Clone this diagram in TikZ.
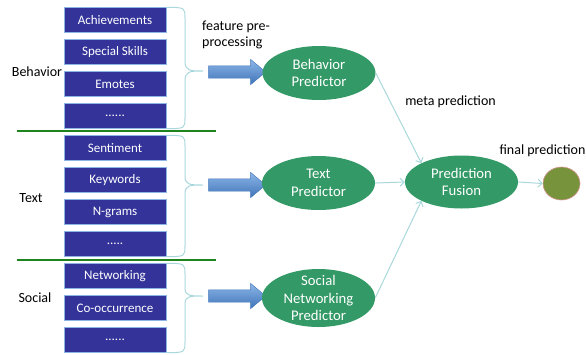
\documentclass[tikz,border=0pt]{standalone}
\usepackage{fontspec}
\setmainfont{Carlito}
\usetikzlibrary{shapes.geometric,shapes.arrows,arrows.meta}

\definecolor{featblue}{HTML}{333399}
\definecolor{featedge}{HTML}{8EB4E3}
\definecolor{predgreen}{HTML}{339966}
\definecolor{linkcyan}{HTML}{A9D8DC}
\definecolor{sepgreen}{HTML}{1E841E}
\definecolor{finalolive}{HTML}{77933C}
\definecolor{finalrim}{HTML}{D99694}
\definecolor{blktop}{HTML}{8DB6E8}
\definecolor{blkbot}{HTML}{3F74B8}

\begin{document}
\begin{tikzpicture}[x=1pt,y=-1pt,
  feat/.style={rectangle, draw=featedge, fill=featblue, text=white,
    minimum width=102pt, minimum height=25pt, inner sep=0pt,
    font=\fontsize{13}{15}\selectfont},
  pred/.style={ellipse, fill=predgreen, text=white, align=center,
    minimum width=113pt, minimum height=54pt, inner sep=0pt,
    font=\fontsize{14.7}{17.5}\selectfont},
  blk/.style={single arrow, draw=blkbot, top color=blktop, bottom color=blkbot,
    minimum height=57pt, minimum width=25pt, inner sep=0pt, inner ysep=6pt,
    single arrow head extend=6.5pt, single arrow tip angle=80},
  brc/.style={draw=linkcyan, line width=1pt},
  link/.style={draw=linkcyan, line width=1pt, -{Straight Barb[length=4pt,width=8pt]}},
  sep/.style={draw=sepgreen, line width=1.5pt},
  lbl/.style={font=\fontsize{14}{16}\selectfont, inner sep=0pt}]
% \draw [help lines, step=20] (0,0) grid (586,354) ;
\useasboundingbox (0,0) rectangle (586,354) ;

% feature boxes
\draw (115,20)  node (ach) [feat] {Achievements} ;
\draw (115,52)  node (skl) [feat] {Special Skills} ;
\draw (115,84)  node (emo) [feat] {Emotes} ;
\draw (115,116) node (dtb) [feat] {......} ;

\draw (115,148) node (sen) [feat] {Sentiment} ;
\draw (115,180) node (kwd) [feat] {Keywords} ;
\draw (115,212) node (ngr) [feat] {N-grams} ;
\draw (115,244) node (dtt) [feat] {.....} ;

\draw (115,276) node (net) [feat] {Networking} ;
\draw (115,308) node (coo) [feat] {Co-occurrence} ;
\draw (115,340) node (dts) [feat] {......} ;

\draw (37,72)  node (lbeh) [lbl] {Behavior} ;
\draw (31,198) node (ltxt) [lbl] {Text} ;
\draw (35,298) node (lsoc) [lbl] {Social} ;

\draw [sep] (17,131) -- (216,131) ;
\draw [sep] (17,260) -- (216,260) ;

% braces
\draw [brc] (ach.north east) .. controls (185,7.5) .. (185,18) -- (185,61)
  .. controls (185,71) and (190,71) .. (203,71) .. controls (190,71) and (185,71) .. (185,81)
  -- (185,118) .. controls (185,128.5) .. (dtb.south east) ;
\draw [brc] (sen.north east) .. controls (185,135.5) .. (185,146) -- (185,176)
  .. controls (185,185) and (190,185) .. (203,185) .. controls (190,185) and (185,185) .. (185,194)
  -- (185,246) .. controls (185,256.5) .. (dtt.south east) ;
\draw [brc] (net.north east) .. controls (185,263.5) .. (185,274) -- (185,288)
  .. controls (185,296) and (190,296) .. (203,296) .. controls (190,296) and (185,296) .. (185,304)
  -- (185,342) .. controls (185,352.5) .. (dts.south east) ;

\draw (233.5,72)  node (arb) [blk] {} ;
\draw (233.5,185) node (art) [blk] {} ;
\draw (233.5,296) node (ars) [blk] {} ;

\draw (202,35) node (lfeat) [lbl, anchor=west, align=left] {feature pre-\\processing} ;

% predictors
\draw (319,73)  node (bp) [pred] {Behavior\\Predictor} ;
\draw (318.5,183) node (tp) [pred] {Text\\Predictor} ;
\draw (318.5,298) node (sp) [pred, minimum height=58pt, inner ysep=-9pt] {Social\\Networking\\Predictor} ;
\draw (461.5,182) node (fus) [pred, minimum height=53pt] {Prediction\\Fusion} ;
\draw (561.5,183.5) node (fin) [ellipse, fill=finalolive, draw=finalrim, line width=.6pt,
  minimum width=37pt, minimum height=33pt, inner sep=0pt] {} ;

\draw (450.5,102) node (lmeta) [lbl] {meta prediction} ;
\draw (542.5,151) node (lfin) [lbl] {final prediction} ;

\draw [link] (bp.east) -- (fus.north west) ;
\draw [link] (tp.east) -- (fus.west) ;
\draw [link] (sp.east) -- (fus.south west) ;
\draw [link] (fus.east) -- (fin.west) ;
\end{tikzpicture}
\end{document}
